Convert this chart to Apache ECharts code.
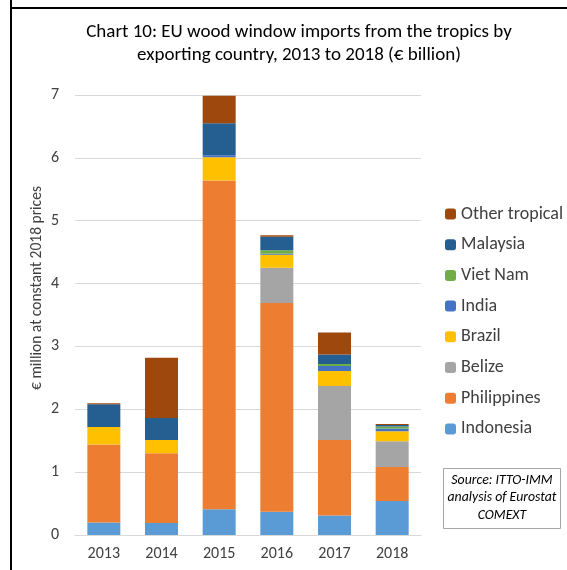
<!DOCTYPE html>
<html>
<head>
<meta charset="utf-8">
<script src="https://cdn.jsdelivr.net/npm/echarts@6/dist/echarts.min.js"></script>
<style>
  html, body { margin: 0; padding: 0; background: #fff; }
  #chart { width: 567px; height: 570px; }
</style>
</head>
<body>
<div id="chart"></div>
<script>
// data (€ billion)
const years = ['2013', '2014', '2015', '2016', '2017', '2018'];
const indonesia   = [0.20, 0.19, 0.41, 0.37, 0.31, 0.54];
const philippines = [1.24, 1.11, 5.23, 3.32, 1.20, 0.54];
const belize      = [0, 0, 0, 0.56, 0.86, 0.41];
const brazil      = [0.28, 0.21, 0.37, 0.21, 0.24, 0.16];
const india       = [0, 0, 0.03, 0.015, 0.08, 0.045];
const vietNam     = [0, 0, 0, 0.055, 0.03, 0.03];
const malaysia    = [0.36, 0.35, 0.51, 0.215, 0.15, 0.025];
const other       = [0.015, 0.96, 0.44, 0.025, 0.35, 0.015];
const yTicks = [0, 1, 2, 3, 4, 5, 6, 7];

const seriesDefs = [
  { name: 'Indonesia', data: indonesia, color: '#5B9BD5' },
  { name: 'Philippines', data: philippines, color: '#ED7D31' },
  { name: 'Belize', data: belize, color: '#A5A5A5' },
  { name: 'Brazil', data: brazil, color: '#FFC000' },
  { name: 'India', data: india, color: '#4472C4' },
  { name: 'Viet Nam', data: vietNam, color: '#70AD47' },
  { name: 'Malaysia', data: malaysia, color: '#255E91' },
  { name: 'Other tropical', data: other, color: '#9E480E' }
];

const font = 'Calibri, Carlito, "Open Sans", "Noto Sans", sans-serif';
const chart = echarts.init(document.getElementById('chart'));

chart.setOption({
  animation: false,
  textStyle: { fontFamily: font },
  title: {
    text: 'Chart 10: EU wood window imports from the tropics by\nexporting country, 2013 to 2018 (€ billion)',
    left: 294,
    top: 16,
    textAlign: 'center',
    textStyle: { fontSize: 19, fontWeight: 'normal', color: '#000', lineHeight: 23, fontFamily: font }
  },
  legend: {
    orient: 'vertical',
    left: 440,
    top: 200,
    itemWidth: 11,
    itemHeight: 11,
    itemGap: 12.7,
    data: seriesDefs.map(s => s.name).reverse(),
    textStyle: { fontSize: 18, color: '#404040', fontFamily: font }
  },
  grid: { left: 75, right: 146, top: 95, bottom: 35 },
  xAxis: {
    type: 'category',
    data: years,
    axisLine: { lineStyle: { color: '#d9d9d9', width: 1 } },
    axisTick: { show: false },
    axisLabel: { color: '#404040', fontSize: 16, margin: 11 }
  },
  yAxis: {
    type: 'value',
    min: yTicks[0],
    max: yTicks[yTicks.length - 1],
    interval: 1,
    axisLine: { show: false },
    axisTick: { show: false },
    axisLabel: { color: '#404040', fontSize: 16, margin: 16 },
    splitLine: { lineStyle: { color: '#d9d9d9', width: 1 } }
  },
  series: seriesDefs.map(s => ({
    name: s.name,
    type: 'bar',
    stack: 'total',
    barWidth: 33,
    data: s.data,
    itemStyle: { color: s.color }
  })),
  graphic: [
    { type: 'line', shape: { x1: 11, y1: 0, x2: 11, y2: 570 }, style: { stroke: '#000', lineWidth: 2 } },
    { type: 'line', shape: { x1: 10, y1: 8, x2: 567, y2: 8 }, style: { stroke: '#000', lineWidth: 2 } },
    {
      type: 'text', x: 37, y: 288, rotation: Math.PI / 2,
      style: { text: '€ million at constant 2018 prices', fontSize: 15.5, fill: '#404040', align: 'center', verticalAlign: 'middle', fontFamily: font }
    },
    { type: 'rect', shape: { x: 443.5, y: 468.5, width: 117, height: 60 }, style: { fill: '#fff', stroke: '#a6a6a6', lineWidth: 1 } },
    {
      type: 'text', x: 502, y: 498,
      style: { text: 'Source: ITTO-IMM\nanalysis of Eurostat\nCOMEXT', fontSize: 13.8, fontStyle: 'italic', lineHeight: 17.5, fill: '#000', align: 'center', verticalAlign: 'middle', fontFamily: font }
    }
  ]
});
</script>
</body>
</html>
